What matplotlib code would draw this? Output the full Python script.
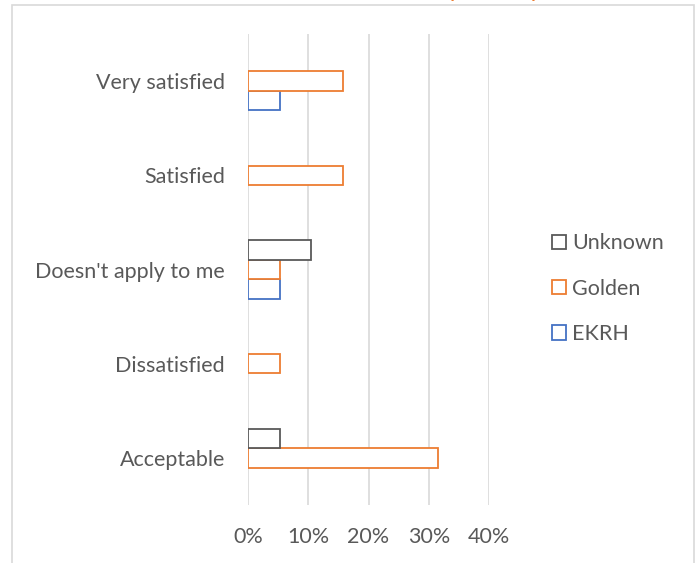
import matplotlib.pyplot as plt
from matplotlib.patches import Rectangle, Patch
from matplotlib.ticker import PercentFormatter
import numpy as np

plt.rcParams['font.family'] = ['Lato', 'DejaVu Sans']

categories = ['Acceptable', 'Dissatisfied', "Doesn't apply to me", 'Satisfied', 'Very satisfied']
ekrh = [0.0, 0.0, 0.0526, 0.0, 0.0526]
golden = [0.3158, 0.0526, 0.0526, 0.1579, 0.1579]
unknown = [0.0526, 0.0, 0.1053, 0.0, 0.0]

series = [('EKRH', ekrh, '#4472C4'), ('Golden', golden, '#ED7D31'), ('Unknown', unknown, '#595959')]

text_col = '#595959'
fig = plt.figure(figsize=(6.99, 5.63), dpi=100)
ax = fig.add_axes([248 / 699, 1 - 505 / 563, 241 / 699, 471 / 563])

y = np.arange(len(categories))
h = 0.207
for i, (name, vals, col) in enumerate(series):
    # empty categories get no outline at all
    edges = [col if v > 0 else 'none' for v in vals]
    ax.barh(y + (i - 1) * h, vals, height=h, facecolor='white', edgecolor=edges,
            linewidth=1.3, label=name, zorder=3)

ax.set_xlim(0, 0.4)
ax.set_ylim(-0.5, 4.5)
ax.set_xticks([0, 0.1, 0.2, 0.3, 0.4])
ax.xaxis.set_major_formatter(PercentFormatter(1.0, decimals=0))
ax.set_yticks(y)
ax.set_yticklabels(categories)
ax.grid(axis='x', color='#D9D9D9', linewidth=1.2, zorder=0)
for s in ax.spines.values():
    s.set_visible(False)
ax.tick_params(length=0, labelsize=15.5, colors=text_col)
ax.tick_params(axis='y', pad=16.5)
ax.tick_params(axis='x', pad=16)

handles = [Patch(facecolor='white', edgecolor=c, linewidth=1.3, label=n)
           for n, _, c in reversed(series)]
fig.legend(handles=handles, loc='upper left', bbox_to_anchor=(533 / 699, 1 - 214 / 563),
           frameon=False, fontsize=15.5, labelcolor=text_col, handlelength=0.65,
           handleheight=0.65, handletextpad=0.25, labelspacing=1.18)

# chart area frame
fig.patches.append(Rectangle((12 / 699, -0.1), (694 - 12) / 699, 1.1 - 5.5 / 563,
                             transform=fig.transFigure, facecolor='none',
                             edgecolor='#D9D9D9', linewidth=1.2))

# title sits above the chart area
fig.text(219 / 699, 1 + 3 / 563, 'Satisfaction with transport help', color='#ED7D31',
         fontsize=17, ha='left', va='baseline')

fig.savefig('out.png', dpi=100)
